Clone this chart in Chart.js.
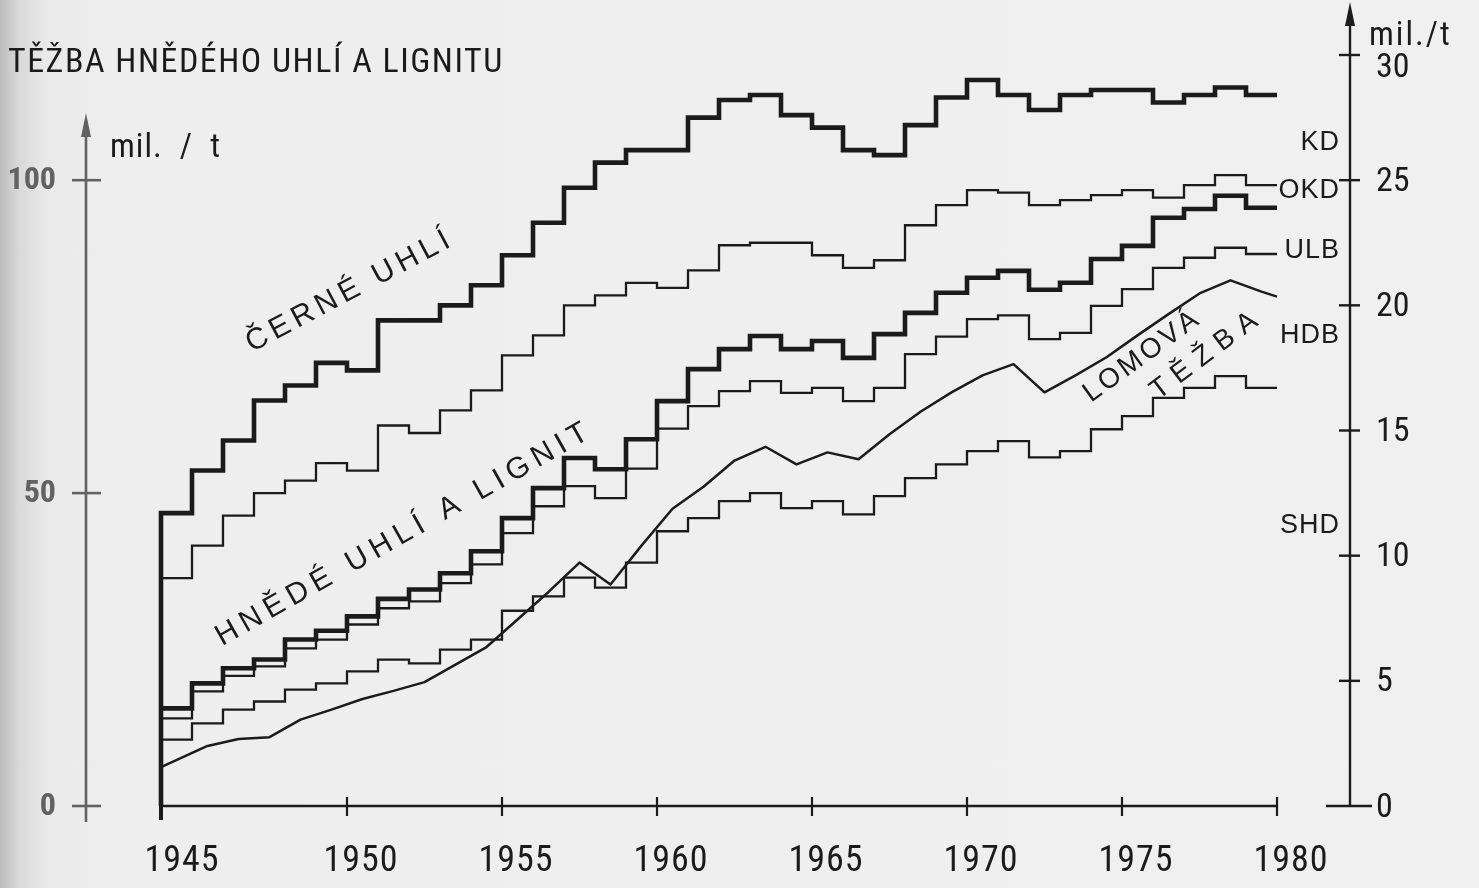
<!DOCTYPE html>
<html><head><meta charset="utf-8">
<script src="https://cdn.jsdelivr.net/npm/chart.js@4.4.1/dist/chart.umd.min.js"></script>
<style>
html,body{margin:0;padding:0;width:1479px;height:888px;overflow:hidden;}
body{background:linear-gradient(to right,#bdbdbd 0px,#d8d8d8 18px,#e9e9e9 45px,#eeeeee 110px,#f0f0f0 100%);}
canvas{display:block;}
</style></head><body>
<canvas id="c" width="1479" height="888"></canvas>
<script>
// ---- data ----
const YEARS = [1945,1946,1947,1948,1949,1950,1951,1952,1953,1954,1955,1956,1957,1958,1959,1960,1961,1962,1963,1964,1965,1966,1967,1968,1969,1970,1971,1972,1973,1974,1975,1976,1977,1978,1979,1980];
// right axis (mil. t)
const CERNE_UHLI = [11.7,13.4,14.6,16.2,16.8,17.7,17.4,19.4,19.4,20.0,20.8,22.0,23.3,24.7,25.7,26.2,26.2,27.5,28.2,28.4,27.6,27.1,26.2,26.0,27.2,28.3,29.0,28.4,27.8,28.4,28.6,28.6,28.1,28.4,28.7,28.4];
const OKD = [9.1,10.4,11.6,12.5,13.0,13.7,13.4,15.2,14.9,15.8,16.6,18.0,18.8,20.0,20.4,20.9,20.7,21.4,22.4,22.5,22.5,22.0,21.5,21.8,23.2,24.0,24.6,24.5,24.0,24.2,24.4,24.6,24.3,24.8,25.2,24.8];
// left axis (mil. t)
const HNEDE_UHLI_A_LIGNIT = [15.6,19.6,22.0,23.4,26.6,28.0,30.3,33.1,34.6,37.2,40.7,46.0,50.8,55.6,53.8,58.6,64.7,69.8,73.0,75.1,73.0,74.3,71.6,75.4,78.8,82.0,84.4,85.5,82.5,83.6,87.4,89.5,94.0,95.4,97.5,95.6];
const HNEDE_UHLI = [14.0,18.3,20.8,22.3,25.2,26.6,29.0,31.6,32.7,35.6,38.6,43.6,47.9,51.1,49.2,53.9,60.3,63.9,66.3,67.9,66.0,66.8,64.7,66.8,72.2,75.0,77.8,78.4,74.6,75.6,79.9,82.6,86.0,87.6,89.2,88.2];
const SHD = [10.6,13.2,15.4,16.7,18.6,19.6,21.5,23.4,22.8,25.0,26.6,31.2,33.5,36.5,34.9,38.9,43.9,46.0,48.7,50.0,47.6,48.7,46.6,49.5,52.4,54.6,56.7,58.3,55.7,56.7,60.2,62.3,65.2,66.8,68.7,66.8];
const LOM_X = [1944,1945.5,1946.5,1947.5,1948.5,1949.5,1950.5,1951.5,1952.5,1953.5,1954.5,1955.5,1956.5,1957.5,1958.5,1959.5,1960.5,1961.5,1962.5,1963.5,1964.5,1965.5,1966.5,1967.5,1968.5,1969.5,1970.5,1971.5,1972.5,1973.5,1974.5,1975.5,1976.5,1977.5,1978.5,1979.5,1980];
const LOMOVA_TEZBA = [6.2,9.6,10.7,11.0,13.8,15.4,17.1,18.4,19.8,22.6,25.4,29.8,34.2,38.9,35.4,41.6,47.5,51.0,55.2,57.4,54.6,56.5,55.4,59.4,63.0,66.1,68.8,70.6,66.1,68.8,71.7,75.2,78.6,81.9,84.0,82.2,81.4];
const X_TICKS = [1944,1950,1955,1960,1965,1970,1975,1980];
const X_TICK_LABELS = ['1945','1950','1955','1960','1965','1970','1975','1980'];
const LEFT_TICKS = [0,50,100];
const RIGHT_TICKS = [0,5,10,15,20,25,30];
const SIDE_LABELS = ['KD','OKD','ULB','HDB','SHD'];
const SIDE_LABEL_AT = [26.5,24.6,22.2,18.8,11.2];

const NARROW = '"Roboto Condensed","DejaVu Sans Condensed","Liberation Sans",sans-serif';
const REG = '"Liberation Sans",Arial,sans-serif';
const INK = '#1b1b1b';

function steps(vals, start){
  const pts=[{x:YEARS[0]-1,y:start}];
  YEARS.forEach((yr,i)=>pts.push({x:yr,y:vals[i]}));
  return pts;
}
function rot(ctx,text,cx,cy,deg,font,sp){
  ctx.save();ctx.translate(cx,cy);ctx.rotate(deg*Math.PI/180);
  ctx.font=font;ctx.letterSpacing=sp+'px';ctx.textAlign='center';ctx.textBaseline='middle';
  ctx.fillText(text,sp/2,0);ctx.restore();
}

const decor={
  id:'decor',
  beforeDatasetsDraw(chart){
    const ctx=chart.ctx,xs=chart.scales.x,yl=chart.scales.yL,yr=chart.scales.yR;
    ctx.save();
    ctx.lineCap='butt';
    // bottom axis
    const y0=yr.getPixelForValue(0);
    ctx.strokeStyle=INK;ctx.lineWidth=2.4;
    ctx.beginPath();ctx.moveTo(xs.getPixelForValue(X_TICKS[0]),y0);ctx.lineTo(xs.getPixelForValue(X_TICKS[X_TICKS.length-1]),y0);ctx.stroke();
    X_TICKS.forEach((v,i)=>{const px=xs.getPixelForValue(v);ctx.lineWidth=i===0?4:2.2;ctx.beginPath();ctx.moveTo(px,y0-9);ctx.lineTo(px,y0+(i===0?14:10));ctx.stroke();});
    ctx.fillStyle=INK;ctx.font='36px '+NARROW;ctx.textAlign='center';ctx.textBaseline='alphabetic';ctx.letterSpacing='1px';
    X_TICKS.forEach((v,i)=>{ctx.fillText(X_TICK_LABELS[i],xs.getPixelForValue(v)+(i===0?21:14),871);});
    ctx.letterSpacing='0px';
    // outer left axis (gray, scanned)
    const ax=86;
    ctx.strokeStyle='#626262';ctx.fillStyle='#626262';ctx.lineWidth=2.6;
    ctx.beginPath();ctx.moveTo(ax,yl.getPixelForValue(0)+16);ctx.lineTo(ax,128);ctx.stroke();
    ctx.beginPath();ctx.moveTo(ax,113);ctx.lineTo(ax-5,137);ctx.lineTo(ax+5,137);ctx.closePath();ctx.fill();
    ctx.font='bold 32px '+NARROW;ctx.textAlign='right';ctx.textBaseline='middle';
    LEFT_TICKS.forEach(v=>{const py=yl.getPixelForValue(v);ctx.beginPath();ctx.moveTo(ax-14,py);ctx.lineTo(ax+15,py);ctx.stroke();ctx.fillText(String(v),56,py+1);});
    // right axis
    const rx=1350;
    ctx.strokeStyle=INK;ctx.fillStyle=INK;ctx.lineWidth=2.4;
    ctx.beginPath();ctx.moveTo(rx,y0);ctx.lineTo(rx,18);ctx.stroke();
    ctx.beginPath();ctx.moveTo(rx,2);ctx.lineTo(rx-5,26);ctx.lineTo(rx+5,26);ctx.closePath();ctx.fill();
    ctx.font='34px '+NARROW;ctx.textAlign='left';ctx.textBaseline='middle';
    RIGHT_TICKS.forEach(v=>{const py=yr.getPixelForValue(v);ctx.beginPath();
      if(v===0){ctx.moveTo(rx-24,py);ctx.lineTo(rx+22,py);}else{ctx.moveTo(rx-11,py);ctx.lineTo(rx+10,py);}
      ctx.stroke();ctx.fillText(String(v),1376,py+(v===30?13:2));});
    ctx.restore();
  },
  afterDatasetsDraw(chart){
    const ctx=chart.ctx,yr=chart.scales.yR;
    ctx.save();ctx.fillStyle=INK;
    // title + units
    ctx.font='34px '+NARROW;ctx.textAlign='left';ctx.textBaseline='alphabetic';ctx.letterSpacing='1.5px';
    ctx.fillText('TĚŽBA HNĚDÉHO UHLÍ A LIGNITU',8,72);
    ctx.font='33px '+NARROW;ctx.letterSpacing='1px';
    ctx.fillText('mil.  /  t',110,157);
    ctx.letterSpacing='2px';
    ctx.fillText('mil./t',1369,45);
    // side labels
    ctx.font='27px '+REG;ctx.textAlign='right';ctx.textBaseline='middle';ctx.letterSpacing='1px';
    SIDE_LABELS.forEach((t,i)=>ctx.fillText(t,1340,yr.getPixelForValue(SIDE_LABEL_AT[i])));
    // in-chart labels
    rot(ctx,'ČERNÉ UHLÍ',348,292,-28,'30px '+REG,5);
    rot(ctx,'HNĚDÉ UHLÍ A LIGNIT',402,535,-29.5,'30px '+REG,6);
    rot(ctx,'LOMOVÁ',1141,357,-36,'28px '+REG,3);
    rot(ctx,'TĚŽBA',1204,356,-37,'28px '+REG,9);
    ctx.restore();
  }
};

const thick={borderColor:INK,borderWidth:4.6,pointRadius:0,stepped:'after',borderJoinStyle:'miter',clip:false,fill:false};
const thin={borderColor:INK,borderWidth:2.3,pointRadius:0,stepped:'after',borderJoinStyle:'miter',clip:false,fill:false};

new Chart(document.getElementById('c'),{
  type:'line',
  data:{datasets:[
    Object.assign({label:'Černé uhlí',data:steps(CERNE_UHLI,0),yAxisID:'yR'},thick),
    Object.assign({label:'OKD',data:steps(OKD,OKD[0]),yAxisID:'yR'},thin),
    Object.assign({label:'Hnědé uhlí a lignit',data:steps(HNEDE_UHLI_A_LIGNIT,HNEDE_UHLI_A_LIGNIT[0]),yAxisID:'yL'},thick),
    Object.assign({label:'Hnědé uhlí',data:steps(HNEDE_UHLI,HNEDE_UHLI[0]),yAxisID:'yL'},thin),
    Object.assign({label:'SHD',data:steps(SHD,SHD[0]),yAxisID:'yL'},thin),
    {label:'Lomová těžba',data:LOM_X.map((x,i)=>({x,y:LOMOVA_TEZBA[i]})),yAxisID:'yL',borderColor:INK,borderWidth:2.5,pointRadius:0,tension:0,clip:false,fill:false,borderJoinStyle:'round'}
  ]},
  options:{
    responsive:false,animation:false,devicePixelRatio:1,
    layout:{padding:{left:161,right:202,top:55,bottom:82}},
    plugins:{legend:{display:false},tooltip:{enabled:false},title:{display:false}},
    scales:{
      x:{type:'linear',min:1944,max:1980,display:false},
      yL:{type:'linear',axis:'y',min:0,max:120,display:false},
      yR:{type:'linear',axis:'y',min:0,max:30,display:false}
    }
  },
  plugins:[decor]
});
</script>
</body></html>
